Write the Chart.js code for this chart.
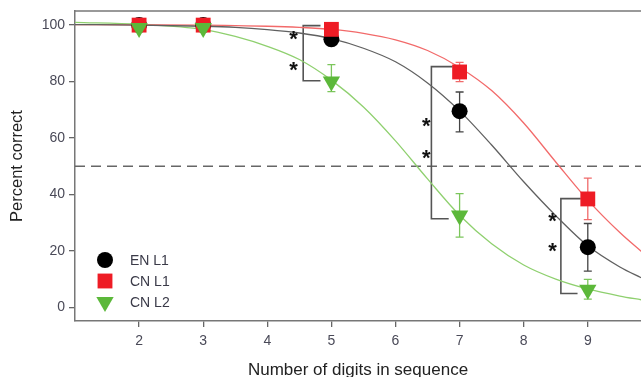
<!DOCTYPE html>
<html>
<head>
<meta charset="utf-8">
<script src="https://cdn.jsdelivr.net/npm/chart.js@4"></script>
<style>
  html, body { margin: 0; padding: 0; background: #fff; }
  #wrap { width: 641px; height: 377px; }
</style>
</head>
<body>
<div id="wrap"><canvas id="chart" width="641" height="377"></canvas></div>
<script>
// measured points
const digits = [2, 3, 5, 7, 9];
const enL1 = [100, 100, 95, 69.5, 21.3];
const cnL1 = [100, 100, 98.5, 83.4, 38.4];
const cnL2 = [99, 99, 80, 32.5, 6.2];
const enL1Err = [[100, 100], [100, 100], [94, 96.5], [62.2, 76.3], [12.8, 29.7]];
const cnL1Err = [[99, 101.5], [99, 101.5], [97, 100.5], [80, 86.8], [31.1, 45.8]];
const cnL2Err = [[98, 100.5], [98, 100.5], [76.4, 86], [24.9, 40.3], [2.9, 9.9]];

// fitted curves
const curveX = [1, 2, 3, 3.5, 4, 4.5, 5, 5.5, 6, 6.5, 7, 7.5, 8, 8.5, 9, 9.5, 9.85];
const enL1Fit = [100.2, 100, 99.6, 99.2, 98.4, 97.2, 95.2, 91.8, 87, 79.5, 69.6, 57.5, 44.5, 32.5, 21.8, 14.3, 10.3];
const cnL1Fit = [100.2, 100.1, 100, 99.8, 99.6, 99.2, 98.5, 97.1, 94.8, 91, 85, 76.8, 65.3, 51.5, 38, 26.5, 19.5];
const cnL2Fit = [101, 100.3, 98.5, 96, 92.5, 87.8, 80.5, 71, 59, 45.5, 32.6, 22.5, 15, 10, 6.5, 4, 2.6];

// significance brackets: [vertical x, arm top end x, arm bottom end x, top y, bottom y]
const brackets = [
  [4.56, 4.83, 4.83, 99.8, 80.3],
  [6.56, 6.89, 6.83, 85.3, 31.4],
  [8.58, 8.89, 8.84, 38.5, 4.9]
];
const stars = [[4.41, 96.6], [4.41, 85.6], [6.48, 65.6], [6.48, 54.4], [8.45, 32.0], [8.45, 21.4]];

const xTicks = [2, 3, 4, 5, 6, 7, 8, 9];
const yTicks = [0, 20, 40, 60, 80, 100];
const chance = 50;

const legendItems = [
  { label: 'EN L1', style: 'circle', color: '#000000', r: 8, rot: 0 },
  { label: 'CN L1', style: 'rect', color: '#ee1c25', r: 10.5, rot: 0 },
  { label: 'CN L2', style: 'triangle', color: '#5cb83a', r: 10, rot: 180 }
];

const pts = (xs, ys) => xs.map((x, i) => ({ x: x, y: ys[i] }));

const curveDs = (ys, color) => ({
  data: pts(curveX, ys), showLine: true, borderColor: color, borderWidth: 1.3,
  pointRadius: 0, cubicInterpolationMode: 'monotone', order: 20
});

const bracketDs = brackets.map(b => ({
  data: [{ x: b[1], y: b[3] }, { x: b[0], y: b[3] }, { x: b[0], y: b[4] }, { x: b[2], y: b[4] }],
  showLine: true, borderColor: '#555', borderWidth: 1.6, pointRadius: 0, tension: 0, order: 25
}));

const errSets = [
  { errs: enL1Err, color: '#444' },
  { errs: cnL1Err, color: '#f06a6a' },
  { errs: cnL2Err, color: '#7cc65c' }
];

const extras = {
  id: 'extras',
  beforeDatasetsDraw(chart) {
    const { ctx, scales: { x, y }, chartArea } = chart;
    ctx.save();
    // top frame line
    ctx.strokeStyle = '#777';
    ctx.lineWidth = 1.5;
    ctx.beginPath();
    ctx.moveTo(chartArea.left, chartArea.top);
    ctx.lineTo(chartArea.right, chartArea.top);
    ctx.stroke();
    // chance line
    ctx.setLineDash([10, 6]);
    ctx.strokeStyle = '#666';
    ctx.beginPath();
    ctx.moveTo(chartArea.left, y.getPixelForValue(chance));
    ctx.lineTo(chartArea.right, y.getPixelForValue(chance));
    ctx.stroke();
    ctx.setLineDash([]);
    // error bars
    ctx.lineWidth = 1.3;
    errSets.forEach(s => {
      ctx.strokeStyle = s.color;
      s.errs.forEach((e, i) => {
        const px = x.getPixelForValue(digits[i]);
        const lo = y.getPixelForValue(e[0]);
        const hi = y.getPixelForValue(e[1]);
        ctx.beginPath();
        ctx.moveTo(px, lo); ctx.lineTo(px, hi);
        ctx.moveTo(px - 4, lo); ctx.lineTo(px + 4, lo);
        ctx.moveTo(px - 4, hi); ctx.lineTo(px + 4, hi);
        ctx.stroke();
      });
    });
    ctx.restore();
  },
  afterDatasetsDraw(chart) {
    const { ctx, scales: { x, y } } = chart;
    ctx.save();
    ctx.fillStyle = '#111';
    ctx.font = 'bold 22px "Liberation Sans", Arial, sans-serif';
    ctx.textAlign = 'center';
    ctx.textBaseline = 'middle';
    stars.forEach(s => {
      ctx.fillText('*', x.getPixelForValue(s[0]), y.getPixelForValue(s[1]) + 5);
    });
    // legend inside plot
    ctx.font = '14px "Liberation Sans", Arial, sans-serif';
    ctx.textAlign = 'left';
    legendItems.forEach((it, i) => {
      const cy = 260 + i * 21;
      ctx.fillStyle = it.color;
      ctx.strokeStyle = it.color;
      Chart.helpers.drawPoint(ctx, { pointStyle: it.style, radius: it.r, rotation: it.rot, borderWidth: 0 }, 105, cy);
      ctx.fillStyle = '#3a3a48';
      ctx.fillText(it.label, 130, cy + 1);
    });
    ctx.restore();
  }
};

const tickFont = { family: '"Liberation Sans", Arial, sans-serif', size: 14 };

new Chart(document.getElementById('chart'), {
  type: 'scatter',
  data: {
    datasets: [
      curveDs(enL1Fit, '#606060'),
      curveDs(cnL1Fit, '#f26a6a'),
      curveDs(cnL2Fit, '#8fd06f'),
      ...bracketDs,
      { label: 'EN L1', data: pts(digits, enL1), pointStyle: 'circle', pointRadius: 8,
        backgroundColor: '#000', borderColor: '#000', borderWidth: 0, order: 3 },
      { label: 'CN L1', data: pts(digits, cnL1), pointStyle: 'rect', pointRadius: 10.5,
        backgroundColor: '#ee1c25', borderColor: '#ee1c25', borderWidth: 0, order: 2 },
      { label: 'CN L2', data: pts(digits, cnL2), pointStyle: 'triangle', pointRadius: 10, rotation: 180,
        backgroundColor: '#5cb83a', borderColor: '#5cb83a', borderWidth: 0, order: 1 }
    ]
  },
  options: {
    responsive: false,
    animation: false,
    events: [],
    layout: { autoPadding: false, padding: { top: 11, right: 0, left: 0, bottom: 0 } },
    plugins: { legend: { display: false }, tooltip: { enabled: false } },
    scales: {
      x: {
        type: 'linear', min: 1, max: 9.83,
        afterBuildTicks: a => { a.ticks = xTicks.map(v => ({ value: v })); },
        afterFit: s => { s.height = 56; s.paddingLeft = 0; s.paddingRight = 0; },
        grid: { drawOnChartArea: false, drawTicks: true, tickLength: 6, color: '#666', lineWidth: 1.3 },
        border: { display: true, color: '#777', width: 1.5 },
        ticks: { color: '#4a4a58', font: tickFont, padding: 6, maxRotation: 0 },
        title: { display: true, text: 'Number of digits in sequence', color: '#222',
          font: { family: '"Liberation Sans", Arial, sans-serif', size: 17 }, padding: { top: 0, bottom: -4 } }
      },
      y: {
        type: 'linear', min: -4.85, max: 105,
        afterBuildTicks: a => { a.ticks = yTicks.map(v => ({ value: v })); },
        afterFit: s => { s.width = 75; s.paddingTop = 0; s.paddingBottom = 0; },
        grid: { drawOnChartArea: false, drawTicks: true, tickLength: 6, color: '#666', lineWidth: 1.3 },
        border: { display: true, color: '#777', width: 1.5 },
        ticks: { color: '#4a4a58', font: tickFont, padding: 4 },
        title: { display: true, text: 'Percent correct', color: '#222',
          font: { family: '"Liberation Sans", Arial, sans-serif', size: 16.5 }, padding: { top: 8, bottom: 0 } }
      }
    }
  },
  plugins: [extras]
});
</script>
</body>
</html>
